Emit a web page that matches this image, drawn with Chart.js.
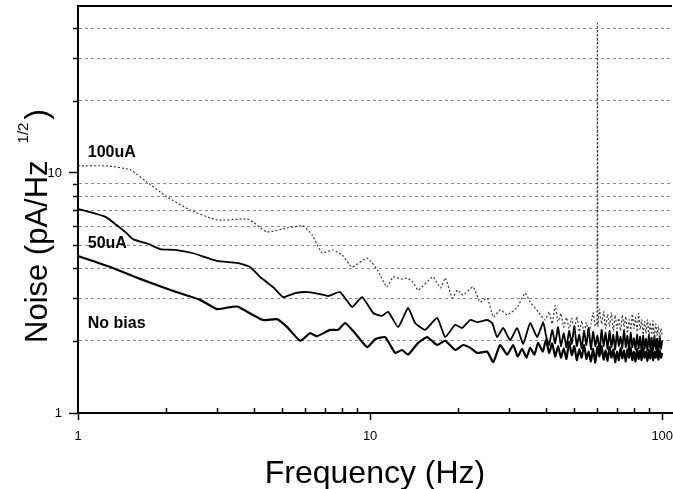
<!DOCTYPE html>
<html>
<head>
<meta charset="utf-8">
<script src="https://cdn.jsdelivr.net/npm/chart.js@4.4.1/dist/chart.umd.min.js"></script>
<style>
  html, body { margin: 0; padding: 0; background: #fff; }
  #wrap { width: 673px; height: 489px; }
</style>
</head>
<body>
<div id="wrap"><canvas id="noise-chart" width="673" height="489"></canvas></div>
<script>
// Frequency (Hz) and noise (pA/Hz^1/2)
const freq100 = [1.00, 1.26, 1.51, 1.72, 2.02, 2.42, 2.99, 3.79, 3.97, 4.44,
  5.20, 5.90, 6.33, 6.85, 7.47, 8.02, 8.67, 9.77, 10.6, 11.4,
  12.0, 12.9, 13.4, 14.0, 14.6, 16.4, 17.4, 18.1, 19.1, 19.9,
  20.8, 22.5, 23.8, 25.2, 26.4, 27.9, 29.5, 31.9, 33.9, 35.3,
  37.6, 39.7,
  41, 42, 43, 44, 45, 46, 47, 48, 49, 50,
  51, 52, 53, 54, 55, 56, 57, 58, 59,
  59.8, 60, 60.2,
  61, 62, 63, 64, 65, 66, 67, 68, 69, 70,
  71, 72, 73, 74, 75, 76, 77, 78, 79, 80,
  81, 82, 83, 84, 85, 86, 87, 88, 89, 90,
  91, 92, 93, 94, 95, 96, 97, 98, 99, 100];
const noise100 = [10.7, 10.7, 10.3, 9.17, 7.94, 7.01, 6.37, 6.43, 6.25, 5.68,
  5.90, 6.02, 5.52, 4.64, 4.78, 4.55, 4.06, 4.42, 3.94, 3.35,
  3.69, 3.61, 3.65, 3.51, 3.25, 3.69, 3.32, 3.65, 3.01, 3.25,
  3.10, 3.35, 2.90, 3.01, 2.51, 2.69, 2.56, 2.76, 3.16, 2.90,
  2.64, 2.44,
  2.64, 2.35, 2.80, 2.40, 2.60, 2.28, 2.50, 2.25, 2.48, 2.20,
  2.52, 2.18, 2.42, 2.15, 2.38, 2.12, 2.35, 2.62, 2.30,
  2.40, 42.0, 2.30,
  2.70, 2.35, 2.65, 2.25, 2.58, 2.30, 2.62, 2.20, 2.55, 2.25,
  2.48, 2.20, 2.56, 2.28, 2.52, 2.15, 2.45, 2.22, 2.58, 2.25,
  2.50, 2.18, 2.60, 2.22, 2.45, 2.12, 2.40, 2.15, 2.45, 2.10,
  2.38, 2.12, 2.42, 2.05, 2.35, 2.10, 2.30, 2.05, 2.25, 2.10];

const freq50 = [1.00, 1.24, 1.45, 1.54, 1.74, 1.91, 2.15, 2.46, 2.99, 3.50,
  3.88, 4.20, 4.65, 5.04, 5.54, 6.13, 6.74, 7.18, 7.89, 8.68,
  9.39, 10.24, 10.99, 11.53, 12.47, 13.49, 14.26, 15.43, 16.96, 18.07,
  19.55, 20.66, 22.0, 23.25, 25.16, 26.17, 27.22, 28.54, 30.16, 31.87,
  33.42, 35.31, 37.32, 39.13,
  40, 41, 42, 43, 44, 45, 46, 47, 48, 49,
  50, 51, 52, 53, 54, 55, 56, 57, 58, 59,
  60, 61, 62, 63, 64, 65, 66, 67, 68, 69,
  70, 71, 72, 73, 74, 75, 76, 77, 78, 79,
  80, 81, 82, 83, 84, 85, 86, 87, 88, 89,
  90, 91, 92, 93, 94, 95, 96, 97, 98, 99, 100];
const noise50 = [7.08, 6.56, 5.68, 5.30, 5.06, 4.82, 4.78, 4.64, 4.30, 4.22,
  4.06, 3.69, 3.35, 3.04, 3.16, 3.19, 3.13, 3.07, 3.19, 2.77,
  3.04, 2.61, 2.54, 2.64, 2.28, 2.74, 2.37, 2.22, 2.49, 2.07,
  2.33, 2.26, 2.44, 2.39, 2.44, 2.37, 2.07, 2.26, 2.01, 2.26,
  1.94, 2.37, 2.07, 2.39,
  2.10, 1.92, 2.22, 1.95, 2.28, 1.90, 2.15, 1.88, 2.20, 1.94,
  2.30, 1.90, 2.12, 1.86, 2.20, 1.92, 2.26, 1.84, 2.18, 1.90,
  2.10, 1.82, 2.22, 1.90, 2.16, 1.85, 2.20, 1.88, 2.12, 1.84,
  2.18, 1.90, 2.08, 1.86, 2.22, 1.88, 2.10, 1.83, 2.16, 1.88,
  2.05, 1.84, 2.12, 1.86, 2.08, 1.80, 2.10, 1.85, 2.04, 1.82,
  2.12, 1.86, 2.06, 1.82, 2.10, 1.84, 2.04, 1.80, 2.08, 1.85, 2.00];

const freqNoBias = [1.00, 1.29, 1.63, 2.12, 2.62, 2.99, 3.37, 3.53, 4.30, 4.80,
  5.20, 5.76, 6.23, 6.58, 7.30, 7.77, 8.21, 8.88, 9.77, 10.40,
  11.26, 12.18, 12.87, 13.49, 14.60, 15.67, 16.96, 18.07, 19.55, 20.82,
  22.0, 23.25, 25.16, 26.38, 27.87, 29.46, 30.88, 32.0, 33.15, 34.3,
  35.31, 36.5, 37.61, 39.0,
  40, 41, 42, 43, 44, 45, 46, 47, 48, 49,
  50, 51, 52, 53, 54, 55, 56, 57, 58, 59,
  60, 61, 62, 63, 64, 65, 66, 67, 68, 69,
  70, 71, 72, 73, 74, 75, 76, 77, 78, 79,
  80, 81, 82, 83, 84, 85, 86, 87, 88, 89,
  90, 91, 92, 93, 94, 95, 96, 97, 98, 99, 100];
const noiseNoBias = [4.51, 4.06, 3.62, 3.22, 2.96, 2.71, 2.77, 2.77, 2.44, 2.46,
  2.28, 2.00, 2.15, 2.09, 2.22, 2.22, 2.37, 2.15, 1.88, 2.03,
  2.07, 1.78, 1.83, 1.75, 1.96, 2.07, 1.92, 2.00, 1.83, 1.92,
  1.87, 1.78, 1.80, 1.63, 1.92, 1.75, 1.92, 1.72, 1.85, 1.70,
  1.87, 1.75, 1.96, 1.80,
  2.02, 1.78, 1.95, 1.72, 1.90, 1.70, 1.86, 1.68, 1.98, 1.74,
  1.90, 1.66, 1.84, 1.70, 1.92, 1.68, 1.80, 1.64, 1.85, 1.62,
  1.88, 1.72, 1.90, 1.67, 1.82, 1.65, 1.88, 1.70, 1.84, 1.63,
  1.80, 1.66, 1.86, 1.69, 1.82, 1.64, 1.84, 1.70, 1.87, 1.66,
  1.80, 1.64, 1.85, 1.68, 1.82, 1.66, 1.86, 1.70, 1.80, 1.65,
  1.83, 1.69, 1.86, 1.66, 1.80, 1.70, 1.84, 1.67, 1.82, 1.70, 1.78];

const seriesNames = ['100uA', '50uA', 'No bias'];
const xMajorTicks = [1, 10, 100];
const xMinorTicks = [2, 3, 4, 5, 6, 7, 8, 9, 20, 30, 40, 50, 60, 70, 80, 90];
const yMajorTicks = [1, 10];
const yGridTicks = [2, 3, 4, 5, 6, 7, 8, 9, 20, 30, 40];

const FONT = "'Liberation Sans', Arial, Helvetica, sans-serif";

function points(xs, ys) {
  return xs.map((x, i) => ({ x: x, y: ys[i] }));
}

// frame, minor ticks, axis titles and curve labels
const decorations = {
  id: 'decorations',
  afterDraw(chart) {
    const ctx = chart.ctx;
    const area = chart.chartArea;
    const xs = chart.scales.x;
    const ys = chart.scales.y;
    ctx.save();

    // top frame line
    ctx.strokeStyle = '#000';
    ctx.lineWidth = 2;
    ctx.beginPath();
    ctx.moveTo(area.left, area.top);
    ctx.lineTo(area.right, area.top);
    ctx.stroke();

    // minor ticks: x inward, y outward
    ctx.lineWidth = 1.5;
    ctx.beginPath();
    xMinorTicks.forEach(v => {
      const px = Math.round(xs.getPixelForValue(v)) + 0.5;
      ctx.moveTo(px, area.bottom);
      ctx.lineTo(px, area.bottom - 5);
    });
    yGridTicks.forEach(v => {
      const py = Math.round(ys.getPixelForValue(v)) + 0.5;
      ctx.moveTo(area.left, py);
      ctx.lineTo(area.left - 5, py);
    });
    ctx.stroke();

    ctx.fillStyle = '#000';

    // x title
    ctx.font = '32px ' + FONT;
    ctx.textAlign = 'center';
    ctx.textBaseline = 'alphabetic';
    ctx.fillText('Frequency (Hz)', (area.left + area.right) / 2, chart.height - 6);

    // y title with superscript
    ctx.save();
    ctx.translate(47, 343);
    ctx.rotate(-Math.PI / 2);
    ctx.textAlign = 'left';
    ctx.font = '31px ' + FONT;
    const main = 'Noise (pA/Hz';
    const w = ctx.measureText(main).width;
    ctx.fillText(main, 0, 0);
    ctx.font = '15px ' + FONT;
    const sup = '1/2';
    const sw = ctx.measureText(sup).width;
    ctx.fillText(sup, w + 17, -19);
    ctx.font = '31px ' + FONT;
    ctx.fillText(')', w + 17 + sw + 3, 0);
    ctx.restore();

    // curve labels
    ctx.font = 'bold 16px ' + FONT;
    ctx.textAlign = 'left';
    ctx.textBaseline = 'middle';
    const lx = xs.getPixelForValue(1.08);
    ctx.fillText(seriesNames[0], lx, ys.getPixelForValue(12.1));
    ctx.fillText(seriesNames[1], lx, ys.getPixelForValue(5.1));
    ctx.fillText(seriesNames[2], lx, ys.getPixelForValue(2.35));

    ctx.restore();
  }
};

new Chart(document.getElementById('noise-chart'), {
  type: 'line',
  data: {
    datasets: [
      {
        label: seriesNames[0],
        data: points(freq100, noise100),
        borderColor: '#3a3a3a',
        borderWidth: 1.2,
        borderDash: [2, 2],
        pointRadius: 0,
        tension: 0.15
      },
      {
        label: seriesNames[1],
        data: points(freq50, noise50),
        borderColor: '#000',
        borderWidth: 1.8,
        pointRadius: 0,
        tension: 0.15
      },
      {
        label: seriesNames[2],
        data: points(freqNoBias, noiseNoBias),
        borderColor: '#000',
        borderWidth: 2.2,
        pointRadius: 0,
        tension: 0.15
      }
    ]
  },
  options: {
    responsive: false,
    animation: false,
    devicePixelRatio: 1,
    layout: { padding: { top: 6, right: 1, left: 0, bottom: 0 } },
    plugins: {
      legend: { display: false },
      tooltip: { enabled: false }
    },
    scales: {
      x: {
        type: 'logarithmic',
        min: 1,
        max: 108,
        afterBuildTicks: s => { s.ticks = xMajorTicks.map(v => ({ value: v })); },
        afterFit: s => {
          s.height = 76;
          s.paddingLeft = 0;
          s.paddingRight = 0;
        },
        ticks: {
          autoSkip: false,
          maxRotation: 0,
          padding: 9,
          color: '#000',
          font: { family: FONT, size: 13 },
          callback: v => String(v)
        },
        grid: {
          drawOnChartArea: false,
          drawTicks: true,
          tickLength: 7,
          tickColor: '#000',
          tickWidth: 1.5
        },
        border: { color: '#000', width: 2 }
      },
      y: {
        type: 'logarithmic',
        min: 1,
        max: 49.6,
        afterBuildTicks: s => {
          s.ticks = yMajorTicks.concat(yGridTicks).sort((a, b) => a - b).map(v => ({ value: v }));
        },
        afterFit: s => {
          s.width = 78;
          s.paddingTop = 0;
          s.paddingBottom = 0;
        },
        ticks: {
          autoSkip: false,
          padding: 7,
          color: '#000',
          font: { family: FONT, size: 13 },
          callback: v => (yMajorTicks.includes(v) ? String(v) : '')
        },
        grid: {
          color: c => (c.tick && yMajorTicks.includes(c.tick.value) ? 'rgba(0,0,0,0)' : '#8a8a8a'),
          lineWidth: 1,
          drawTicks: true,
          tickLength: 9,
          tickWidth: 1.5,
          tickColor: c => (c.tick && yMajorTicks.includes(c.tick.value) ? '#000' : 'rgba(0,0,0,0)')
        },
        border: { color: '#000', width: 2, dash: [3, 3] }
      }
    }
  },
  plugins: [decorations]
});
</script>
</body>
</html>
